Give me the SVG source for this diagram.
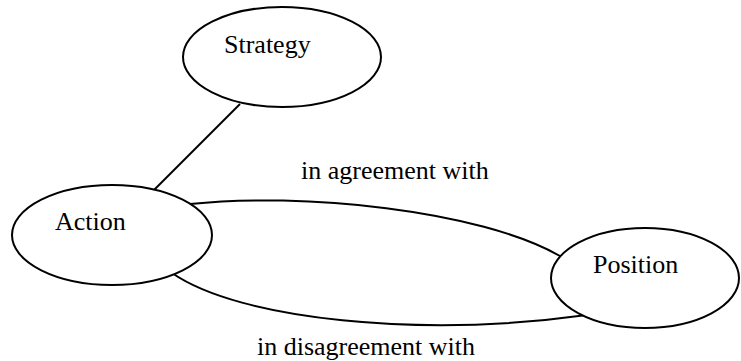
<svg xmlns="http://www.w3.org/2000/svg" width="741" height="361" viewBox="0 0 741 361">
<style>
.node{fill:#fff;stroke:#000;stroke-width:2}
.edge{fill:none;stroke:#000;stroke-width:2}
text{font-family:"Liberation Serif","Times New Roman",serif;font-size:26px;fill:#000}
</style>
<rect width="741" height="361" fill="#fff"/>
<g id="connectors">
<path class="edge" d="M240,104 L153,191"/>
<path class="edge" d="M190,204 C300,192 480,210 560,256"/>
<path class="edge" d="M172,273 C240,320 420,338 587,315"/>
</g>
<g id="strategy">
<ellipse class="node" cx="282" cy="57" rx="99" ry="50"/>
<text x="224" y="53">Strategy</text>
</g>
<g id="action">
<ellipse class="node" cx="112" cy="235" rx="100" ry="50"/>
<text x="55" y="230">Action</text>
</g>
<g id="position">
<ellipse class="node" cx="645" cy="278" rx="94" ry="50"/>
<text x="593" y="273">Position</text>
</g>
<g id="labels">
<text x="301" y="179">in agreement with</text>
<text x="257" y="355">in disagreement with</text>
</g>
</svg>
